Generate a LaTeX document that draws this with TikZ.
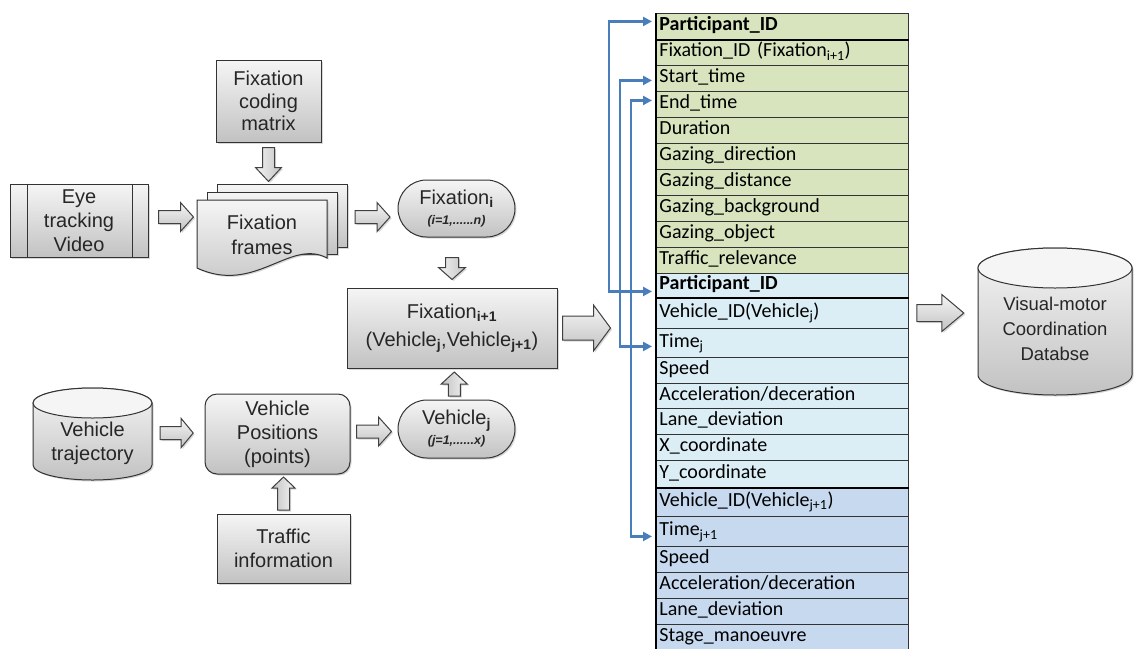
\documentclass[tikz,border=0pt]{standalone}
\usepackage{fontspec}
\setmainfont{Liberation Sans}
\newfontfamily\calibri{Carlito}
\usetikzlibrary{calc,shapes.misc,shadows,arrows.meta}

\definecolor{txt}{HTML}{262626}
\definecolor{rowgreen}{HTML}{D7E4BD}
\definecolor{rowblue}{HTML}{DCEEF5}
\definecolor{rowblue2}{HTML}{C6D9EF}
\definecolor{linkblue}{HTML}{4A7EBB}
\definecolor{boxtop}{HTML}{F5F5F5}
\definecolor{boxbot}{HTML}{C2C2C2}

\tikzset{
  softshadow/.style={drop shadow={shadow xshift=1.5pt,shadow yshift=-1.5pt,opacity=.3}},
  flowbox/.style={draw=black!80, line width=1pt, top color=boxtop, bottom color=boxbot,
    text=txt, align=center, font=\fontsize{20}{24}\selectfont, inner sep=0pt, softshadow},
  plaintext/.style={text=txt, align=center, inner sep=0pt},
  surface/.style={draw=black!80, line width=1pt, top color=boxtop, bottom color=boxbot, softshadow},
  lid/.style={draw=black!80, line width=1pt, fill=boxtop},
  blockarrow/.style={draw=black!75, line width=1pt, softshadow},
  shd right/.style={top color=boxtop, bottom color=boxbot},
  shd down/.style={left color=boxtop, right color=boxbot},
  shd up/.style={right color=boxtop, left color=boxbot},
  pics/barrow/.style n args={5}{code={
    \path[blockarrow,#5] (-#1/2,-#2/2) -- (#1/2-#4,-#2/2) -- (#1/2-#4,-#3/2) -- (#1/2,0)
      -- (#1/2-#4,#3/2) -- (#1/2-#4,#2/2) -- (-#1/2,#2/2) -- cycle;}},
  tabrow/.style={anchor=north west, draw=black!80, line width=0.9pt, minimum width=252pt,
    text width=246pt, align=left, inner xsep=2pt, inner ysep=0pt, text=black,
    font=\calibri\fontsize{20}{22}\selectfont, text height=14pt, text depth=5pt},
  link/.style={draw=linkblue, line width=2.2pt, <->, >={Triangle[length=9pt,width=9pt]}},
}

\newcommand\trow[5]{\node[tabrow, fill=#4, minimum height=#3pt] (#1) at (656,#2) {#5};}

\begin{document}
\begin{tikzpicture}[x=1pt,y=-1pt]
\useasboundingbox[fill=white] (0,0) rectangle (1134,648);

% ---------- left part: fixation chain ----------
\node[flowbox, minimum width=105pt, minimum height=82pt, font=\fontsize{20}{22.5}\selectfont]
  (fcm) at (268.5,101) {Fixation\\coding\\matrix};

\node[flowbox, minimum width=138pt, minimum height=73pt] (eye) at (79,220.5) {Eye\\tracking\\Video};
\draw[black!80, line width=1pt] ([xshift=18pt]eye.north west) -- ([xshift=18pt]eye.south west);
\draw[black!80, line width=1pt] ([xshift=-16pt]eye.north east) -- ([xshift=-16pt]eye.south east);

% stacked document pages
\path[surface] (217,184) rectangle (347,247);
\path[surface] (207,192) rectangle (337,254);
\path[surface] (197,200) -- (327,200) -- (327,258) .. controls (290,238) and (255,295) .. (197,268) -- cycle;
\node[plaintext, minimum width=130pt, minimum height=68pt, font=\fontsize{20}{25}\selectfont]
  (frames) at (262,235) {Fixation\\frames};

\node[flowbox, rounded rectangle, minimum width=117pt, minimum height=57pt] (fixi) at (456.5,208.5)
  {Fixation\textsubscript{\textbf{i}}\\[-4pt]{\fontsize{12.5}{14}\selectfont\bfseries\itshape (i=1,......n)}};

\node[flowbox, minimum width=210pt, minimum height=80pt, font=\fontsize{20}{28}\selectfont] (fix1) at (452,328)
  {Fixation\textsubscript{\textbf{i+1}}\\(Vehicle\textsubscript{\textbf{j}},Vehicle\textsubscript{\textbf{j+1}})};

% ---------- left part: vehicle chain ----------
\path[surface] (33,403) -- (33,465) arc (180:0:59.5 and 15) -- (152,403) arc (0:-180:59.5 and 15) -- cycle;
\path[lid] (92.5,403) ellipse (59.5 and 15);
\node[plaintext, minimum width=119pt, font=\fontsize{20}{24}\selectfont] (traj) at (92.5,443) {Vehicle\\trajectory};

\node[flowbox, rounded corners=12pt, minimum width=145pt, minimum height=80pt] (vpos) at (277.5,434)
  {Vehicle\\Positions\\(points)};

\node[flowbox, rounded rectangle, minimum width=117pt, minimum height=58pt] (vehj) at (456.5,429)
  {Vehicle\textsubscript{\textbf{j}}\\[-4pt]{\fontsize{12.5}{14}\selectfont\bfseries\itshape (j=1,......x)}};

\node[flowbox, minimum width=133pt, minimum height=69pt] (traffic) at (283.5,548.5) {Traffic\\information};

% ---------- database ----------
\path[surface] (978,268) -- (978,375) arc (180:0:77 and 20) -- (1132,268) arc (0:-180:77 and 20) -- cycle;
\path[lid] (1055,268) ellipse (77 and 20);
\node[plaintext, minimum width=156pt, font=\fontsize{18.5}{25}\selectfont] (vmc) at (1055,329)
  {Visual-motor\\Coordination\\Databse};

% ---------- record table ----------
\trow{g1}{13}{26}{rowgreen}{\textbf{Participant\_ID}}
\trow{g2}{39}{26}{rowgreen}{Fixation\_ID (Fixation\textsubscript{i+1})}
\trow{g3}{65}{26}{rowgreen}{Start\_time}
\trow{g4}{91}{26}{rowgreen}{End\_time}
\trow{g5}{117}{26}{rowgreen}{Duration}
\trow{g6}{143}{26}{rowgreen}{Gazing\_direction}
\trow{g7}{169}{26}{rowgreen}{Gazing\_distance}
\trow{g8}{195}{26}{rowgreen}{Gazing\_background}
\trow{g9}{221}{26}{rowgreen}{Gazing\_object}
\trow{g10}{247}{26}{rowgreen}{Traffic\_relevance}
\trow{b1}{273}{24}{rowblue}{\textbf{Participant\_ID}}
\trow{b2}{297}{31}{rowblue}{Vehicle\_ID(Vehicle\textsubscript{j})}
\trow{b3}{328}{29}{rowblue}{Time\textsubscript{j}}
\trow{b4}{357}{26}{rowblue}{Speed}
\trow{b5}{383}{25}{rowblue}{Acceleration/deceration}
\trow{b6}{408}{26}{rowblue}{Lane\_deviation}
\trow{b7}{434}{26}{rowblue}{X\_coordinate}
\trow{b8}{460}{27}{rowblue}{Y\_coordinate}
\trow{c1}{487}{29}{rowblue2}{Vehicle\_ID(Vehicle\textsubscript{j+1})}
\trow{c2}{516}{30}{rowblue2}{Time\textsubscript{j+1}}
\trow{c3}{546}{26}{rowblue2}{Speed}
\trow{c4}{572}{26}{rowblue2}{Acceleration/deceration}
\trow{c5}{598}{26}{rowblue2}{Lane\_deviation}
\trow{c6}{624}{26}{rowblue2}{Stage\_manoeuvre}
\draw[black, line width=2pt] (g1.north west) -- (c6.south west);
\foreach \r in {g1,b1,b8}
  \draw[black, line width=1.8pt] (\r.south west) -- (\r.south east);

% ---------- field links ----------
\coordinate (lx1) at (609,0);
\coordinate (lx2) at (620,0);
\coordinate (lx3) at (631,0);
\coordinate (p1) at ([xshift=-4pt,yshift=5pt]g1.west);
\coordinate (p2) at ([xshift=-4pt,yshift=-6pt]b1.west);
\coordinate (s1) at ([xshift=-4pt,yshift=-2pt]g3.west);
\coordinate (s2) at ([xshift=-4pt,yshift=-3.5pt]b3.west);
\coordinate (t1) at ([xshift=-4pt,yshift=4pt]g4.west);
\coordinate (t2) at ([xshift=-4pt,yshift=-5pt]c2.west);
\draw[link] (p1) -| (lx1 |- p2) -- (p2);
\draw[link] (t1) -| (lx3 |- t2) -- (t2);
\draw[link] (s1) -| (lx2 |- s2) -- (s2);

% ---------- block arrows ----------
\pic[rotate=-90] at ($(fcm.south)+(0,22)$) {barrow={34}{12}{26}{14}{shd down}};
\pic at ($(eye.east)+(27.5,-3.5)$) {barrow={35}{13}{29}{13}{shd right}};
\pic at ($(fixi.west)+(-25,8.5)$) {barrow={35}{13}{29}{13}{shd right}};
\pic[rotate=-90] at ($(fix1.north)+(0,-19)$) {barrow={22}{13}{27}{12}{shd down}};
\pic[rotate=90] at ($(fix1.south)!.5!(vehj.north)$) {barrow={24}{12}{26}{12}{shd up}};
\pic at ($(traj.east)+(24.5,-10)$) {barrow={33}{13}{29}{12}{shd right}};
\pic at ($(vpos.east)!.5!(vehj.west)$) {barrow={35}{13}{29}{13}{shd right}};
\pic[rotate=90] at ($(traffic.north)+(0,-20)$) {barrow={33}{12}{23}{11}{shd up}};
\pic at ($(fix1.east)+(29,0)$) {barrow={48}{24}{46}{17}{shd right}};
\pic at ($(vmc.west)+(-36.5,-16)$) {barrow={47}{17}{37}{22}{shd right}};
\end{tikzpicture}
\end{document}
